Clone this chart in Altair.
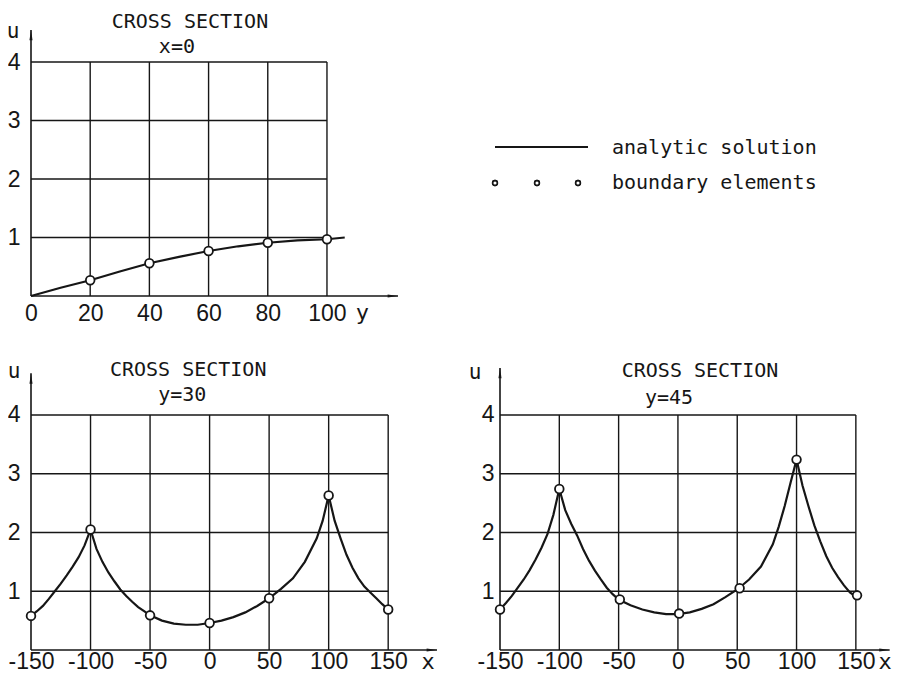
import altair as alt
import pandas as pd

INK = "#161616"
MONO = "DejaVu Sans Mono"
NARROW = "Liberation Sans Narrow, Liberation Sans, sans-serif"

# ---------- panel A: cross section x=0 (u against y) ----------
a_ticks = [0, 20, 40, 60, 80, 100]
a_curve_x = [0, 10, 20, 30, 40, 50, 60, 70, 80, 90, 100, 106]
a_curve_u = [0, 0.14, 0.27, 0.42, 0.56, 0.67, 0.77, 0.85, 0.91, 0.95, 0.97, 1.0]
a_pts_x = [20, 40, 60, 80, 100]
a_pts_u = [0.27, 0.56, 0.77, 0.91, 0.97]

# ---------- panel B: cross section y=30 (u against x) ----------
b_ticks = [-150, -100, -50, 0, 50, 100, 150]
b_curve_x = [-150, -145, -140, -135, -130, -125, -120, -115, -110, -105, -100,
             -95, -90, -85, -80, -75, -70, -65, -60, -55, -50,
             -40, -30, -20, -10, 0, 10, 20, 30, 40, 50,
             60, 70, 80, 90, 95, 100,
             105, 110, 115, 120, 125, 130, 135, 140, 145, 150]
b_curve_u = [0.58, 0.66, 0.75, 0.87, 1.0, 1.13, 1.27, 1.42, 1.58, 1.78, 2.05,
             1.72, 1.5, 1.32, 1.17, 1.03, 0.92, 0.82, 0.73, 0.66, 0.59,
             0.5, 0.45, 0.43, 0.43, 0.46, 0.5, 0.56, 0.64, 0.75, 0.88,
             1.04, 1.22, 1.5, 1.9, 2.2, 2.63,
             2.2, 1.9, 1.62, 1.4, 1.22, 1.08, 0.98, 0.88, 0.78, 0.69]
b_pts_x = [-150, -100, -50, 0, 50, 100, 150]
b_pts_u = [0.58, 2.05, 0.59, 0.46, 0.88, 2.63, 0.69]

# ---------- panel C: cross section y=45 (u against x) ----------
c_ticks = [-150, -100, -50, 0, 50, 100, 150]
c_curve_x = [-150, -145, -140, -135, -130, -125, -120, -115, -110, -105, -100,
             -95, -90, -85, -80, -75, -70, -65, -60, -55, -50,
             -40, -30, -20, -10, 0, 10, 20, 30, 40, 50,
             60, 70, 80, 85, 90, 95, 100,
             105, 110, 115, 120, 125, 130, 135, 140, 145, 150]
c_curve_u = [0.69, 0.8, 0.92, 1.06, 1.2, 1.36, 1.54, 1.74, 1.97, 2.3, 2.74,
             2.38, 2.15, 1.95, 1.72, 1.52, 1.35, 1.2, 1.06, 0.95, 0.86,
             0.76, 0.69, 0.64, 0.61, 0.61, 0.64, 0.7, 0.78, 0.9, 1.03,
             1.2, 1.42, 1.8, 2.1, 2.45, 2.85, 3.24,
             2.8, 2.45, 2.12, 1.85, 1.6, 1.4, 1.24, 1.1, 0.98, 0.91]
c_pts_x = [-150, -100, -49, 1, 52, 100, 151]
c_pts_u = [0.69, 2.74, 0.86, 0.62, 1.05, 3.24, 0.93]

u_ticks = [1, 2, 3, 4]

ARROW_R = "M-2.6,-0.38L0,0L-2.6,0.38Z"
ARROW_U = "M-0.38,2.6L0,0L0.38,2.6Z"


def panel(ticks, cx, cu, px, pu, xdom, ydom, width, height,
          arrow_x, arrow_u, title_xy, sub, sub_xy, u_dx, u_u,
          axis_letter, letter_x, ylab_pad, xlab_pad, letter_dy):
    xmin = xdom[0]
    xs = alt.Scale(domain=xdom, nice=False, zero=False)
    ys = alt.Scale(domain=ydom, nice=False, zero=False)
    X = alt.X("x:Q", scale=xs, axis=alt.Axis(
        values=ticks, domain=False, ticks=False, tickSize=0, grid=False,
        title=None, labelFont=NARROW, labelFontSize=23, labelColor=INK,
        labelExpr="'' + datum.value",
        labelPadding=xlab_pad, labelFlush=False, labelOverlap=False,
        labelBound=False))
    Y = alt.Y("y:Q", scale=ys, axis=alt.Axis(
        values=u_ticks, domain=False, ticks=False, tickSize=0, grid=False,
        title=None, labelFont=NARROW, labelFontSize=23, labelColor=INK,
        labelPadding=ylab_pad, labelFlush=False, labelOverlap=False,
        labelBound=False))

    hgrid = pd.DataFrame({"x": [xmin] * 4, "x2": [ticks[-1]] * 4, "y": u_ticks})
    vgrid = pd.DataFrame({"x": ticks[1:], "y": [0] * (len(ticks) - 1),
                          "y2": [4] * (len(ticks) - 1)})
    xaxis = pd.DataFrame({"x": [xmin], "x2": [arrow_x], "y": [0]})
    yaxis = pd.DataFrame({"x": [xmin], "y": [0], "y2": [arrow_u]})
    xtip = pd.DataFrame({"x": [arrow_x], "y": [0]})
    ytip = pd.DataFrame({"x": [xmin], "y": [arrow_u]})
    curve = pd.DataFrame({"x": cx, "y": cu})
    pts = pd.DataFrame({"x": px, "y": pu})
    titles = pd.DataFrame({"x": [title_xy[0], sub_xy[0]],
                           "y": [title_xy[1], sub_xy[1]],
                           "t": ["CROSS SECTION", sub]})

    g1 = alt.Chart(hgrid).mark_rule(color=INK, strokeWidth=1.4).encode(
        x=X, x2="x2", y=Y)
    g2 = alt.Chart(vgrid).mark_rule(color=INK, strokeWidth=1.4).encode(
        x=X, y=Y, y2="y2")
    ax1 = alt.Chart(xaxis).mark_rule(color=INK, strokeWidth=1.6).encode(
        x=X, x2="x2", y=Y)
    ax2 = alt.Chart(yaxis).mark_rule(color=INK, strokeWidth=1.6).encode(
        x=X, y=Y, y2="y2")
    arr1 = alt.Chart(xtip).mark_point(
        shape=ARROW_R, size=64, filled=True, color=INK, opacity=1).encode(
        x=X, y=Y)
    arr2 = alt.Chart(ytip).mark_point(
        shape=ARROW_U, size=64, filled=True, color=INK, opacity=1).encode(
        x=X, y=Y)
    line = alt.Chart(curve).mark_line(color=INK, strokeWidth=2.2).encode(
        x=X, y=Y, order=alt.Order("x:Q"))
    dots = alt.Chart(pts).mark_point(
        shape="circle", size=75, filled=True, fill="white", stroke=INK,
        strokeWidth=1.8, opacity=1).encode(x=X, y=Y)
    tt = alt.Chart(titles).mark_text(
        font=MONO, fontSize=20, color=INK, align="center",
        baseline="middle").encode(x=X, y=Y, text="t:N")
    ulab = alt.Chart(pd.DataFrame({"x": [xmin], "y": [u_u], "t": ["u"]})).mark_text(
        font=MONO, fontSize=21, color=INK, align="center", baseline="middle",
        dx=u_dx).encode(x=X, y=Y, text="t:N")
    xl = alt.Chart(pd.DataFrame({"x": [letter_x], "y": [0], "t": [axis_letter]})).mark_text(
        font=MONO, fontSize=22, color=INK, align="center", baseline="middle",
        dy=letter_dy).encode(x=X, y=Y, text="t:N")

    return alt.layer(g1, g2, ax1, ax2, arr1, arr2, line, dots, tt, ulab, xl).properties(
        width=width, height=height)


pa = panel(a_ticks, a_curve_x, a_curve_u, a_pts_x, a_pts_u,
           [0, 124], [0, 4.89], 367, 286, 124, 4.55,
           (53.7, 4.68), "x=0", (49.3, 4.26), -18, 4.51,
           "y", 112, 11, 6, 17)
pb = panel(b_ticks, b_curve_x, b_curve_u, b_pts_x, b_pts_u,
           [-150, 191], [0, 4.85], 406, 285, 191, 4.71,
           (-18, 4.76), "y=30", (-23, 4.34), -17, 4.73,
           "x", 183.5, 11, 0, 12)
pc = panel(c_ticks, c_curve_x, c_curve_u, c_pts_x, c_pts_u,
           [-150, 183], [0, 4.85], 395, 285, 178.5, 4.8,
           (18.6, 4.75), "y=45", (-7.5, 4.29), -25, 4.72,
           "x", 174.6, 6, 0, 12)

# ---------- legend panel ----------
leg_labels = ["analytic solution", "boundary elements"]
leg = alt.Chart(pd.DataFrame({"t": leg_labels})).properties(width=395, height=286)
leg_line = leg.mark_rule(color=INK, strokeWidth=2.2).encode(
    x=alt.value(-5), x2=alt.value(88), y=alt.value(137))
leg_c1 = leg.mark_point(shape="circle", size=22, filled=True, fill="white",
                        stroke=INK, strokeWidth=1.6, opacity=1).encode(
    x=alt.value(-5), y=alt.value(173))
leg_c2 = leg_c1.encode(x=alt.value(37))
leg_c3 = leg_c1.encode(x=alt.value(78))
leg_t1 = alt.Chart(pd.DataFrame({"t": [leg_labels[0]]})).mark_text(
    font=MONO, fontSize=20, color=INK, align="left", baseline="middle").encode(
    x=alt.value(112), y=alt.value(138), text="t:N")
leg_t2 = alt.Chart(pd.DataFrame({"t": [leg_labels[1]]})).mark_text(
    font=MONO, fontSize=20, color=INK, align="left", baseline="middle").encode(
    x=alt.value(112), y=alt.value(173), text="t:N")
legend = alt.layer(leg_line, leg_c1, leg_c2, leg_c3, leg_t1, leg_t2).properties(
    width=395, height=286)

chart = alt.concat(
    pa, legend, pb, pc, columns=2, bounds="flush",
    spacing={"row": 69, "column": 63},
).properties(
    autosize=alt.AutoSizeParams(type="none"),
    padding={"left": 23, "top": 2, "right": 861, "bottom": 667},
    background="white",
).configure_view(stroke=None)

chart.save("out.html", embed_options={"renderer": "svg", "actions": False})
